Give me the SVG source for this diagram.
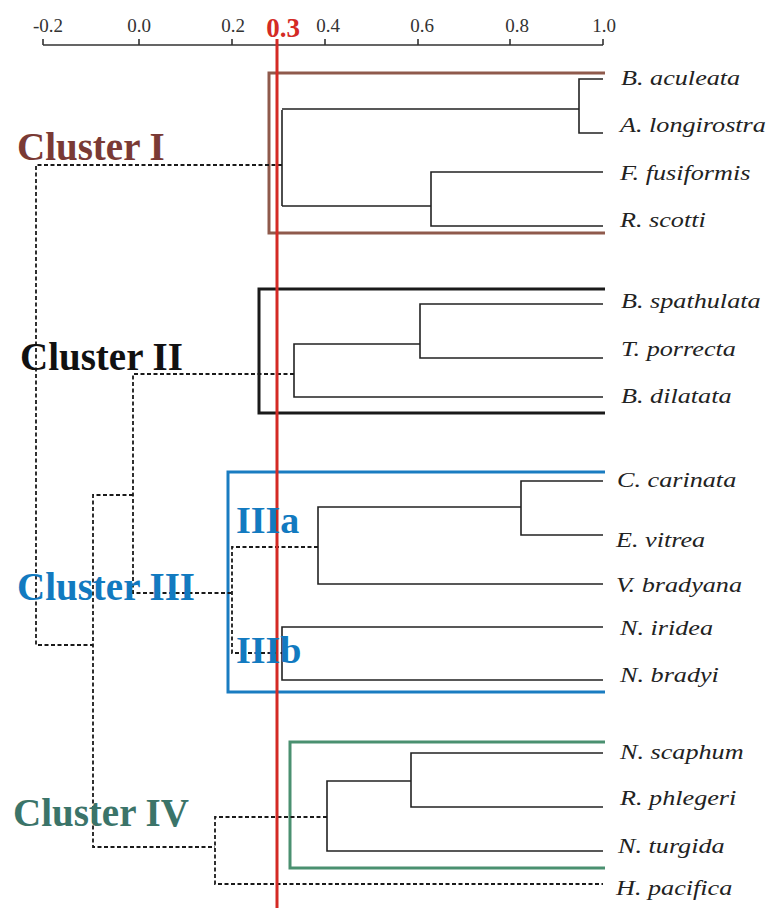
<svg xmlns="http://www.w3.org/2000/svg" width="768" height="908" viewBox="0 0 768 908">
<style>
.ax{font-family:"Liberation Serif","Times New Roman",serif;font-size:19px;fill:#333;text-anchor:middle}
.sp{font-family:"Liberation Serif","Times New Roman",serif;font-size:22px;font-style:italic;fill:#222}
.cl{font-family:"Liberation Serif","Times New Roman",serif;font-size:39px;font-weight:bold}
.sub{font-family:"Liberation Serif","Times New Roman",serif;font-size:38px;font-weight:bold;fill:#127ac0}
.tree{fill:none;stroke:#222;stroke-width:1.6}
.dash{fill:none;stroke:#1a1a1a;stroke-width:1.8;stroke-dasharray:4 2.5}
.box{fill:none;stroke-width:3}
</style>
<rect width="768" height="908" fill="#fff"/>
<g id="axis">
<path d="M43 45H603M43 45V39M139 45V39M232 45V39M325 45V39M418 45V39M510 45V39M603 45V39" fill="none" stroke="#333" stroke-width="1.6"/>
<text class="ax" x="48" y="32">-0.2</text>
<text class="ax" x="139" y="32">0.0</text>
<text class="ax" x="233" y="32">0.2</text>
<text class="ax" x="328" y="32">0.4</text>
<text class="ax" x="422" y="32">0.6</text>
<text class="ax" x="517" y="32">0.8</text>
<text class="ax" x="604" y="32">1.0</text>
</g>
<g id="cluster-boxes">
<path class="box" stroke="#8f5a4c" d="M605 73H269V233H605"/>
<path class="box" stroke="#1a1a1a" d="M605 289H259V413H605"/>
<path class="box" stroke="#1a7cc1" d="M605 472H228V692H605"/>
<path class="box" stroke="#4a9070" d="M605 742H290V868H605"/>
</g>
<g id="connectors">
<path class="tree" d="M603 79H579V133H603M579 109H282M603 172H431V226H603M431 206H282M282 110V206"/>
<path class="tree" d="M603 304H420V358H603M420 344H294V397H603"/>
<path class="tree" d="M603 481H521V535H603M521 507H318V584H603"/>
<path class="tree" d="M603 627H282V680H603"/>
<path class="tree" d="M603 753H411V807H603M411 781H327V851H603"/>
<path class="dash" d="M282 165H36V645H93"/>
<path class="dash" d="M294 374H133V593H232M133 495H93V847H215"/>
<path class="dash" d="M318 547H232V653H282"/>
<path class="dash" d="M327 817H215V884H603"/>
</g>
<g id="threshold">
<line x1="277" y1="39" x2="277" y2="908" stroke="#d42a25" stroke-width="3"/>
<text x="283" y="37" text-anchor="middle" font-family="Liberation Serif, Times New Roman, serif" font-size="27" font-weight="bold" fill="#d42a25">0.3</text>
</g>
<g id="labels-cluster">
<text class="cl" x="17" y="160" fill="#7a3a35">Cluster I</text>
<text class="cl" x="20" y="370" fill="#111">Cluster II</text>
<text class="cl" x="17" y="600" fill="#127ac0">Cluster III</text>
<text class="cl" x="13" y="826" fill="#3b7469">Cluster IV</text>
<text class="sub" x="236" y="533">IIIa</text>
<text class="sub" x="236" y="663">IIIb</text>
</g>
<g id="leaf-labels">
<text class="sp" transform="translate(621 85) scale(1.19 1)">B. aculeata</text>
<text class="sp" transform="translate(620 132) scale(1.19 1)">A. longirostra</text>
<text class="sp" transform="translate(620 180) scale(1.19 1)">F. fusiformis</text>
<text class="sp" transform="translate(620 227) scale(1.19 1)">R. scotti</text>
<text class="sp" transform="translate(621 308) scale(1.19 1)">B. spathulata</text>
<text class="sp" transform="translate(621 356) scale(1.19 1)">T. porrecta</text>
<text class="sp" transform="translate(621 403) scale(1.19 1)">B. dilatata</text>
<text class="sp" transform="translate(617 487) scale(1.19 1)">C. carinata</text>
<text class="sp" transform="translate(616 547) scale(1.19 1)">E. vitrea</text>
<text class="sp" transform="translate(616 592) scale(1.19 1)">V. bradyana</text>
<text class="sp" transform="translate(620 635) scale(1.19 1)">N. iridea</text>
<text class="sp" transform="translate(620 682) scale(1.19 1)">N. bradyi</text>
<text class="sp" transform="translate(620 759) scale(1.19 1)">N. scaphum</text>
<text class="sp" transform="translate(620 805) scale(1.19 1)">R. phlegeri</text>
<text class="sp" transform="translate(618 853) scale(1.19 1)">N. turgida</text>
<text class="sp" transform="translate(616 895) scale(1.19 1)">H. pacifica</text>
</g>
</svg>
